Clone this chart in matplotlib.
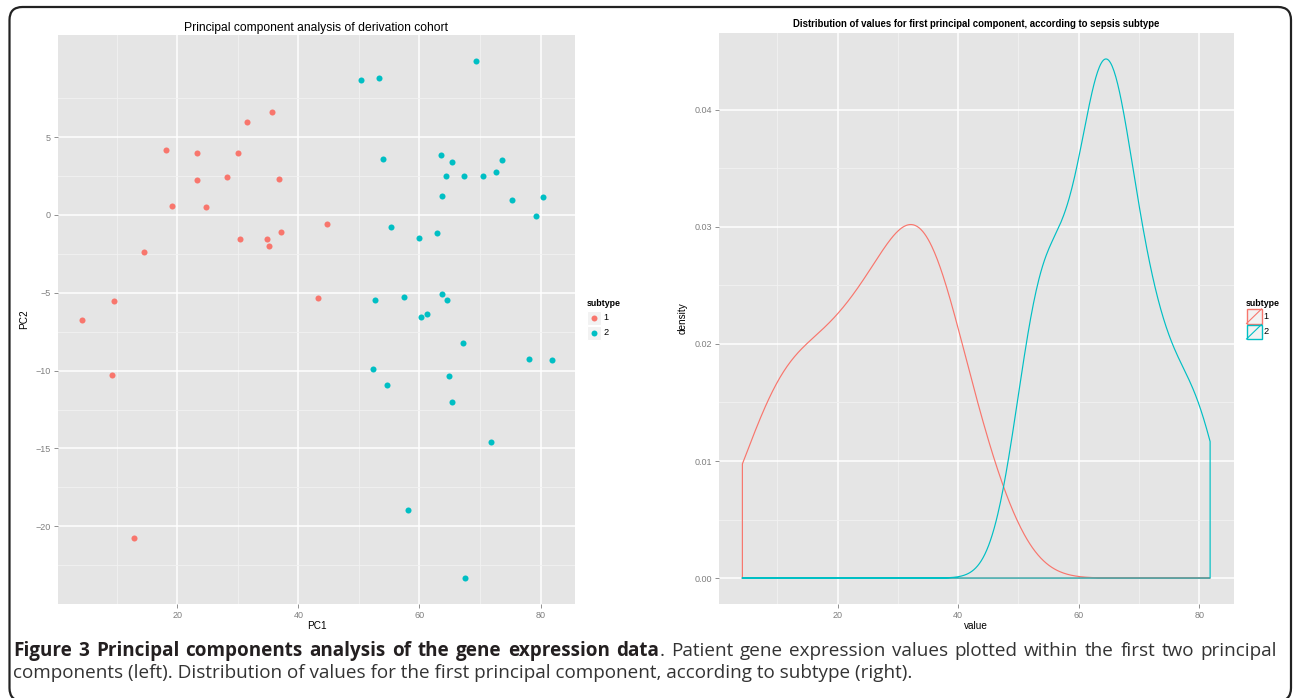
import numpy as np
import matplotlib
matplotlib.use('Agg')
import matplotlib.pyplot as plt
from matplotlib.patches import FancyBboxPatch, Rectangle
from matplotlib.lines import Line2D
from matplotlib.transforms import IdentityTransform

## values
subtypes = ['1', '2']
colors = ['#F8766D', '#00BFC4']

pc1_sub1 = [4.2, 9.6, 14.5, 18.1, 19.2, 23.3, 23.3, 24.7, 28.3, 30.0, 30.4,
            31.6, 34.9, 35.2, 35.7, 36.8, 37.2, 43.3, 44.7, 9.2, 12.8]
pc2_sub1 = [-6.75, -5.53, -2.38, 4.18, 0.58, 3.98, 2.25, 0.51, 2.44, 3.98, -1.54,
            5.98, -1.54, -1.99, 6.62, 2.31, -1.09, -5.33, -0.58, -10.3, -20.76]

pc1_sub2 = [50.4, 53.3, 69.4, 53.9, 63.5, 65.3, 73.7, 64.4, 67.4, 70.5, 72.6,
            63.7, 75.2, 80.4, 79.2, 55.3, 59.9, 62.9, 52.6, 57.4, 63.7, 64.6,
            60.2, 61.3, 67.2, 78.1, 81.8, 52.4, 54.6, 64.8, 65.4, 71.8, 58.1, 67.5]
pc2_sub2 = [8.68, 8.80, 9.90, 3.60, 3.86, 3.41, 3.53, 2.51, 2.51, 2.51, 2.76,
            1.22, 0.96, 1.16, -0.06, -0.77, -1.48, -1.16, -5.46, -5.27, -5.08, -5.46,
            -6.56, -6.36, -8.23, -9.25, -9.32, -9.90, -10.93, -10.35, -12.02, -14.59, -18.96, -23.33]

left_title = 'Principal component analysis of derivation cohort'
right_title = 'Distribution of values for first principal component, according to sepsis subtype'
cap_bold = 'Figure 3 Principal components analysis of the gene expression data'
cap_line1 = '. Patient gene expression values plotted within the first two principal'
cap_line2 = ('components (left). Distribution of values for the first principal '
             'component, according to subtype (right).')

W, H = 1293, 698
plt.rcParams['font.family'] = ['Liberation Sans', 'DejaVu Sans']
plt.rcParams['axes.unicode_minus'] = True

fig = plt.figure(figsize=(W / 100, H / 100), dpi=100)

def box(left, top, right, bottom):
    return [left / W, 1 - bottom / H, (right - left) / W, (bottom - top) / H]

def px(x, y):
    return x / W, 1 - y / H

def expand(vals, frac=0.05):
    lo, hi = min(vals), max(vals)
    d = (hi - lo) * frac
    return lo - d, hi + d

def gg_style(ax, xmaj, xmin, ymaj, ymin):
    ax.set_facecolor('#E5E5E5')
    for s in ax.spines.values():
        s.set_visible(False)
    ax.set_xticks(xmaj)
    ax.set_xticks(xmin, minor=True)
    ax.set_yticks(ymaj)
    ax.set_yticks(ymin, minor=True)
    ax.grid(which='major', color='white', lw=1.1)
    ax.grid(which='minor', color='#F2F2F2', lw=0.6)
    ax.set_axisbelow(True)
    ax.tick_params(which='major', length=3, width=0.6, color='#7F7F7F',
                   labelcolor='#7F7F7F', labelsize=6.5, pad=2)
    ax.tick_params(which='minor', length=0)

def kde(data, grid):
    ## gaussian kernel, bandwidth as R's bw.nrd0 (what geom_density uses)
    x = np.asarray(data, float)
    n = len(x)
    iqr = np.percentile(x, 75) - np.percentile(x, 25)
    bw = 0.9 * min(np.std(x, ddof=1), iqr / 1.34) * n ** -0.2
    z = (grid[:, None] - x[None, :]) / bw
    return np.exp(-0.5 * z ** 2).sum(axis=1) / (n * bw * np.sqrt(2 * np.pi))

## left panel : scatter
ax1 = fig.add_axes(box(58, 35, 575, 604))
ax1.scatter(pc1_sub1, pc2_sub1, s=19, color=colors[0], lw=0, zorder=3)
ax1.scatter(pc1_sub2, pc2_sub2, s=19, color=colors[1], lw=0, zorder=3)
ax1.set_xlim(expand(pc1_sub1 + pc1_sub2))
ax1.set_ylim(expand(pc2_sub1 + pc2_sub2))
gg_style(ax1, [20, 40, 60, 80], [10, 30, 50, 70],
         [-20, -15, -10, -5, 0, 5], [-22.5, -17.5, -12.5, -7.5, -2.5, 2.5, 7.5])
ax1.set_xlabel('PC1', fontsize=7.2, labelpad=1)
ax1.set_ylabel('PC2', fontsize=7.2, labelpad=5)
ax1.set_title(left_title, fontsize=8.7, pad=3)

## right panel : densities of PC1
ax2 = fig.add_axes(box(719, 33, 1233.5, 604))
allx = pc1_sub1 + pc1_sub2
grid = np.linspace(min(allx), max(allx), 512)
dmax = 0
for vals, col in zip([pc1_sub1, pc1_sub2], colors):
    d = kde(vals, grid)
    dmax = max(dmax, d.max())
    xs = np.concatenate([[grid[0]], grid, [grid[-1], grid[0]]])
    ys = np.concatenate([[0], d, [0, 0]])
    ax2.plot(xs, ys, color=col, lw=0.85)
ax2.set_xlim(expand(allx))
ax2.set_ylim(expand([0, dmax]))
gg_style(ax2, [20, 40, 60, 80], [10, 30, 50, 70],
         [0, 0.01, 0.02, 0.03, 0.04], [0.005, 0.015, 0.025, 0.035])
ax2.set_yticklabels(['%.2f' % v for v in [0, 0.01, 0.02, 0.03, 0.04]])
ax2.set_xlabel('value', fontsize=7.2, labelpad=1)
ax2.set_ylabel('density', fontsize=7.2, labelpad=5)
ax2.set_title(right_title, fontsize=6.9, fontweight='bold', pad=4)

## legends (drawn in pixel coordinates)
fig.text(*px(587, 303), 'subtype', fontsize=6.4, fontweight='bold', va='center')
for i, (lab, col) in enumerate(zip(subtypes, colors)):
    yc = 318 + 14.5 * i
    fig.add_artist(Rectangle(px(587, yc + 7), 14 / W, 14 / H, transform=fig.transFigure,
                             facecolor='#F2F2F2', edgecolor='white', lw=0.8))
    fig.add_artist(Line2D([px(594, yc)[0]], [px(594, yc)[1]], marker='o', ms=4.3,
                          color=col, mec='none', transform=fig.transFigure))
    fig.text(*px(603.5, yc), lab, fontsize=6.6, va='center')

fig.text(*px(1246, 303), 'subtype', fontsize=6.4, fontweight='bold', va='center')
for i, (lab, col) in enumerate(zip(subtypes, colors)):
    top = 309 + 15.5 * i
    x0, y0 = px(1246.5, top + 14.5)
    fig.add_artist(Rectangle((x0, y0), 15 / W, 14.5 / H, transform=fig.transFigure,
                             facecolor='#F2F2F2', edgecolor=col, lw=1.0))
    fig.add_artist(Line2D([x0, x0 + 15 / W], [y0, y0 + 14.5 / H], color=col, lw=0.8,
                          transform=fig.transFigure))
    fig.text(*px(1263.5, top + 7.5), lab, fontsize=6.6, va='center')

## frame round the figure
fig.add_artist(FancyBboxPatch((9.5, -3), 1281.5, 694, boxstyle='round,pad=0,rounding_size=13',
                              transform=IdentityTransform(), facecolor='none',
                              edgecolor='#222222', lw=1.6))

## caption, first line justified between x=13 and x=1277
renderer = fig.canvas.get_renderer()
CAP = ['Open Sans', 'DejaVu Sans']
cap_col = '#231F20'
x_left, x_right = 13, 1277

t2 = fig.text(x_left / W, 1 - 678 / H, cap_line2, fontsize=14, family=CAP,
              color='#333333', va='baseline')
w2 = t2.get_window_extent(renderer).width
fs = 14 * (915 - x_left) / w2
t2.set_fontsize(fs)

pieces = []
for w in cap_bold.split(' '):
    pieces.append([(w, 'bold')])
pieces[-1].append(('.', 'normal'))
for w in cap_line1[2:].split(' '):
    pieces.append([(w, 'normal')])

items = []
widths = []
for piece in pieces:
    group = []
    tot = 0
    for txt, wt in piece:
        t = fig.text(0, 1 - 656 / H, txt, fontsize=fs, fontweight=wt, family=CAP,
                     color=cap_col if wt == 'bold' else '#333333', va='baseline')
        ww = t.get_window_extent(renderer).width
        group.append((t, tot))
        tot += ww
    items.append(group)
    widths.append(tot)
gap = (x_right - x_left - sum(widths)) / (len(widths) - 1)
x = x_left
for group, ww in zip(items, widths):
    for t, off in group:
        t.set_x((x + off) / W)
    x += ww + gap

fig.savefig('out.png', dpi=100)
